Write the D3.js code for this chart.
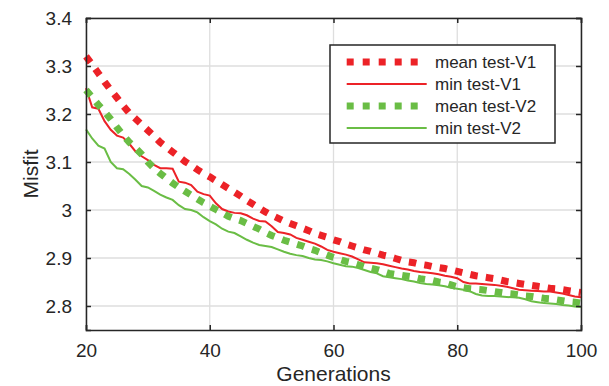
<!DOCTYPE html>
<html>
<head>
<meta charset="utf-8">
<script src="https://cdn.jsdelivr.net/npm/d3@7"></script>
<style>
  html, body { margin: 0; padding: 0; background: #fff; }
  svg { display: block; font-family: "Liberation Sans", Arial, Helvetica, sans-serif; }
</style>
</head>
<body>
<svg id="chart" width="609" height="386"></svg>
<script>
// ---- data ----
const generations = d3.range(20, 101);
const meanV1 = [3.320,3.303,3.285,3.267,3.250,3.234,3.217,3.202,3.190,3.178,
  3.166,3.154,3.141,3.131,3.121,3.111,3.101,3.093,3.084,3.076,
  3.069,3.061,3.053,3.045,3.037,3.029,3.020,3.012,3.004,2.996,
  2.989,2.983,2.977,2.972,2.967,2.962,2.957,2.951,2.947,2.943,
  2.938,2.934,2.929,2.925,2.921,2.917,2.914,2.910,2.906,2.903,
  2.899,2.895,2.892,2.890,2.887,2.885,2.882,2.880,2.878,2.875,
  2.872,2.869,2.866,2.863,2.861,2.859,2.857,2.854,2.851,2.849,
  2.847,2.845,2.843,2.841,2.839,2.837,2.836,2.834,2.832,2.830,2.828];
const minV1 = [3.254,3.214,3.211,3.185,3.167,3.155,3.151,3.138,3.122,3.112,
  3.104,3.094,3.087,3.087,3.086,3.059,3.057,3.052,3.038,3.033,
  3.030,3.014,3.002,2.997,2.994,2.993,2.989,2.982,2.977,2.976,
  2.966,2.954,2.952,2.949,2.942,2.938,2.934,2.930,2.924,2.917,
  2.913,2.910,2.907,2.903,2.897,2.891,2.890,2.889,2.887,2.884,
  2.881,2.878,2.876,2.873,2.871,2.870,2.868,2.866,2.863,2.861,
  2.858,2.850,2.847,2.847,2.846,2.845,2.844,2.842,2.840,2.837,
  2.834,2.833,2.832,2.831,2.830,2.830,2.828,2.826,2.823,2.820,2.818];
const meanV2 = [3.250,3.235,3.219,3.205,3.189,3.172,3.156,3.141,3.129,3.116,
  3.100,3.087,3.076,3.066,3.056,3.047,3.039,3.031,3.023,3.015,
  3.008,3.001,2.994,2.987,2.982,2.978,2.972,2.966,2.960,2.953,
  2.947,2.942,2.937,2.933,2.929,2.925,2.920,2.916,2.911,2.906,
  2.901,2.897,2.893,2.890,2.886,2.882,2.879,2.876,2.872,2.868,
  2.866,2.864,2.862,2.860,2.857,2.855,2.853,2.850,2.848,2.844,
  2.840,2.838,2.836,2.835,2.834,2.832,2.830,2.828,2.826,2.825,
  2.823,2.821,2.820,2.818,2.816,2.815,2.813,2.811,2.809,2.808,2.806];
const minV2 = [3.168,3.149,3.134,3.128,3.100,3.087,3.085,3.075,3.063,3.050,
  3.047,3.040,3.032,3.026,3.021,3.010,3.002,3.000,2.995,2.985,
  2.977,2.970,2.961,2.955,2.952,2.945,2.938,2.932,2.927,2.925,
  2.923,2.918,2.913,2.909,2.906,2.904,2.900,2.897,2.896,2.893,
  2.889,2.886,2.883,2.882,2.879,2.875,2.871,2.868,2.862,2.860,
  2.858,2.856,2.853,2.851,2.848,2.846,2.845,2.843,2.841,2.838,
  2.836,2.834,2.831,2.825,2.822,2.821,2.821,2.820,2.819,2.818,
  2.817,2.814,2.810,2.808,2.806,2.805,2.804,2.802,2.801,2.799,2.798];
const xTicks = [20, 40, 60, 80, 100];
const yTicks = [2.8, 2.9, 3.0, 3.1, 3.2, 3.3, 3.4];
const yTickLabels = ["2.8", "2.9", "3", "3.1", "3.2", "3.3", "3.4"];
const seriesNames = ["mean test-V1", "min test-V1", "mean test-V2", "min test-V2"];
const xLabel = "Generations";
const yLabel = "Misfit";

// ---- layout ----
const RED = "#ec2227", GREEN = "#6abd45", AXIS = "#262626", GRID = "#dedede";
const pL = 86, pR = 581, pT = 18, pB = 330;
const svg = d3.select("#chart");
const x = d3.scaleLinear().domain([20, 100]).range([pL, pR]);
const y = d3.scaleLinear().domain([2.75, 3.4]).range([pB, pT]);

// grid
const grid = svg.append("g");
grid.selectAll("line.gx").data(xTicks).join("line")
  .attr("x1", d => x(d)).attr("x2", d => x(d)).attr("y1", pT).attr("y2", pB)
  .attr("stroke", GRID).attr("stroke-width", 1.3);
grid.selectAll("line.gy").data(yTicks).join("line")
  .attr("y1", d => y(d)).attr("y2", d => y(d)).attr("x1", pL).attr("x2", pR)
  .attr("stroke", GRID).attr("stroke-width", 1.3);

// lines
const series = [
  {vals: meanV1, color: RED, dotted: true},
  {vals: minV1, color: RED, dotted: false},
  {vals: meanV2, color: GREEN, dotted: true},
  {vals: minV2, color: GREEN, dotted: false}
];
const line = d3.line().x((d, i) => x(generations[i])).y(d => y(d));
const plot = svg.append("g");
series.forEach(s => {
  plot.append("path").datum(s.vals)
    .attr("d", line)
    .attr("fill", "none")
    .attr("stroke", s.color)
    .attr("stroke-width", s.dotted ? 7 : 2)
    .attr("stroke-dasharray", s.dotted ? "7.5 8.2" : null)
    .attr("stroke-linejoin", "miter");
});

// axes (box, inward ticks)
const ax = svg.append("g");
const tickLen = 5;
const xAxisB = d3.axisBottom(x).tickValues(xTicks).tickSize(-tickLen).tickPadding(14).tickFormat(d3.format("d"));
const xAxisT = d3.axisTop(x).tickValues(xTicks).tickSize(-tickLen).tickFormat("");
const yAxisL = d3.axisLeft(y).tickValues(yTicks).tickSize(-tickLen).tickPadding(14)
  .tickFormat((d, i) => yTickLabels[i]);
const yAxisR = d3.axisRight(y).tickValues(yTicks).tickSize(-tickLen).tickFormat("");
[[xAxisB, `translate(0,${pB})`], [xAxisT, `translate(0,${pT})`],
 [yAxisL, `translate(${pL},0)`], [yAxisR, `translate(${pR},0)`]].forEach(([a, t]) => {
  const g = ax.append("g").attr("transform", t).call(a);
  g.select(".domain").attr("stroke", AXIS).attr("stroke-width", 1.5);
  g.selectAll(".tick line").attr("stroke", AXIS).attr("stroke-width", 1.5);
  g.selectAll(".tick text").attr("fill", "#262626").style("font-size", "19px")
    .style("font-family", '"Liberation Sans", Arial, Helvetica, sans-serif');
});

// axis labels
svg.append("text").attr("x", (pL + pR) / 2).attr("y", 381)
  .attr("text-anchor", "middle").attr("fill", "#262626").style("font-size", "21px").text(xLabel);
svg.append("text").attr("transform", `translate(38,${(pT + pB) / 2}) rotate(-90)`)
  .attr("text-anchor", "middle").attr("fill", "#262626").style("font-size", "21px").text(yLabel);

// legend
const lg = svg.append("g");
lg.append("rect").attr("x", 330).attr("y", 45).attr("width", 225).attr("height", 98)
  .attr("fill", "#fff").attr("stroke", AXIS).attr("stroke-width", 1.5);
const rowY = [62, 84, 106, 128];
series.forEach((s, i) => {
  lg.append("line").attr("x1", 346.7).attr("x2", 426.7).attr("y1", rowY[i]).attr("y2", rowY[i])
    .attr("stroke", s.color).attr("stroke-width", s.dotted ? 7 : 2)
    .attr("stroke-dasharray", s.dotted ? "7 9" : null);
  lg.append("text").attr("x", 435).attr("y", rowY[i]).attr("dy", "0.35em")
    .attr("fill", "#262626").style("font-size", "17px").text(seriesNames[i]);
});
</script>
</body>
</html>
